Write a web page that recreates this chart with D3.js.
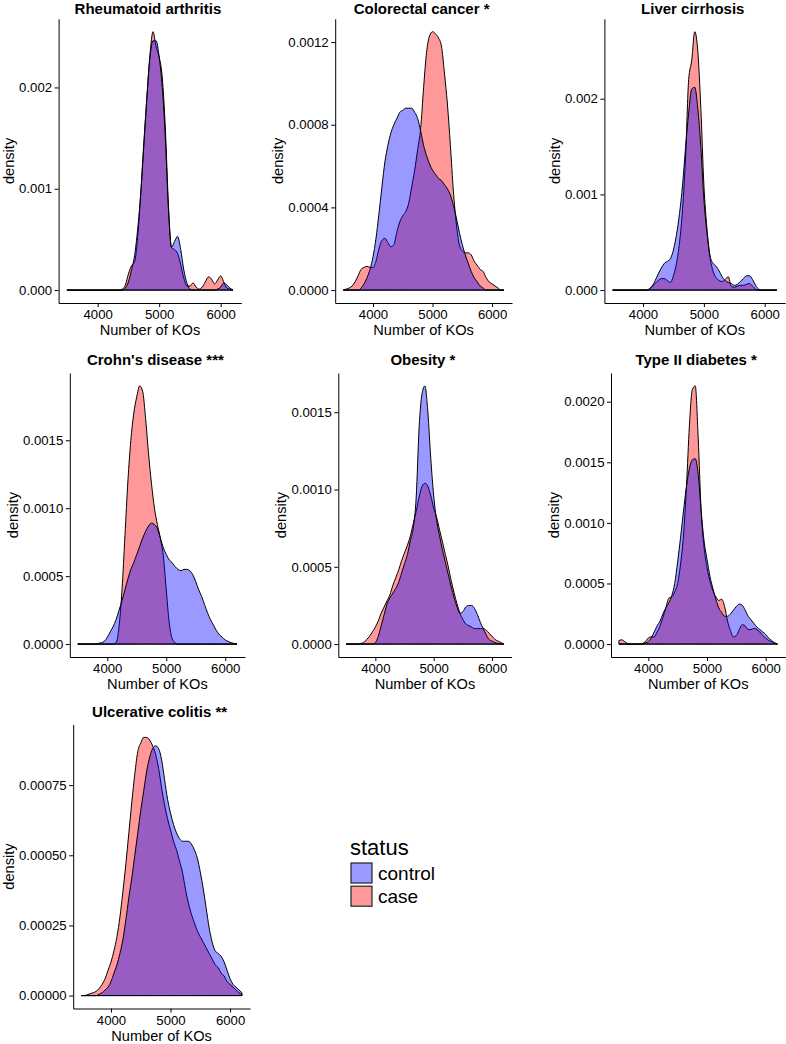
<!DOCTYPE html>
<html><head><meta charset="utf-8">
<script src="https://cdn.jsdelivr.net/npm/d3@7"></script>
<style>
body{margin:0;background:#fff;}
svg{display:block;font-family:"Liberation Sans",Arial,Helvetica,sans-serif;}
</style></head><body>
<svg id="chart" width="786" height="1044"></svg>
<script>
// ---------- DATA ----------
const kos = [3500,3550,3600,3650,3700,3750,3800,3850,3900,3950,
4000,4050,4100,4150,4200,4250,4300,4350,4400,4450,
4500,4550,4600,4650,4700,4750,4800,4850,4900,4950,
5000,5050,5100,5150,5200,5250,5300,5350,5400,5450,
5500,5550,5600,5650,5700,5750,5800,5850,5900,5950,
6000,6050,6100,6150,6200];

const statusLevels = ["control", "case"];
const xTickValues = [4000, 5000, 6000];

const raCase = [0,0,0,0,0,0,0,0,0,0,
0,0,0,0,0,0,0,0,0.00001,0.00005,
0.00016,0.00024,0.00028,0.00052,0.00095,0.00145,0.0019,0.00232,0.00255,0.0024,
0.0023,0.0021,0.0016,0.00085,0.00042,0.0004,0.00036,0.00025,0.00012,0.00004,
0.00004,0.00007,0.00003,0.00001,0.00003,0.00008,0.00013,0.00011,0.00006,0.0001,
0.00014,0.00008,0.00002,0.00001,0];
const raControl = [0,0,0,0,0,0,0,0,0,0,
0,0,0,0,0,0,0,0,0,0.00002,
0.00008,0.0002,0.00034,0.0006,0.00095,0.00142,0.0019,0.0023,0.00246,0.00246,
0.0023,0.002,0.0015,0.0008,0.00042,0.00048,0.00053,0.0004,0.0002,0.00007,
0.00001,0,0,0,0,0,0,0,0,0.00001,
0.00003,0.00007,0.00005,0.00002,0];

const crcCase = [0,0.000005,0.00001,0.00002,0.00004,0.00007,0.0001,0.00011,0.000115,0.00011,
0.00011,0.00014,0.0002,0.00024,0.00025,0.00023,0.00021,0.00022,0.00028,0.00033,
0.00036,0.00038,0.00042,0.0005,0.00058,0.00068,0.00078,0.00098,0.00115,0.00123,
0.00125,0.00124,0.00122,0.00118,0.00105,0.0009,0.0007,0.00048,0.00032,0.00022,
0.00019,0.00018,0.00018,0.00017,0.00014,0.00012,0.0001,0.00009,0.00006,0.00004,
0.00003,0.00002,0.00001,0,0];
const crcControl = [0,0,0,0,0,0,0.00001,0.00003,0.00006,0.0001,
0.00016,0.00025,0.00037,0.0005,0.00062,0.0007,0.00076,0.0008,0.00083,0.00086,
0.00087,0.00088,0.00088,0.00088,0.00086,0.00083,0.00077,0.0007,0.00065,0.00061,
0.00058,0.00056,0.00054,0.00053,0.00051,0.00049,0.00046,0.00041,0.00035,0.00028,
0.00022,0.00017,0.00013,0.00009,0.00006,0.00004,0.00002,0.00001,0,0,
0,0,0,0,0];

const lcCase = [0,0,0,0,0,0,0,0,0,0,
0,0,0.00001,0.00004,0.00007,0.0001,0.00012,0.00012,0.0001,0.00008,
0.00015,0.00028,0.0005,0.00085,0.0014,0.0022,0.0024,0.0027,0.0025,0.0019,
0.0011,0.00065,0.00035,0.0002,0.00013,0.0001,0.00009,0.00011,0.00014,0.00004,
0.00003,0.00004,0.00005,0.00005,0.00006,0.00007,0.00004,0.00001,0,0,
0,0,0,0,0];
const lcControl = [0,0,0,0,0,0,0,0,0,0,
0,0,0.00001,0.00004,0.0001,0.00017,0.00023,0.00028,0.0003,0.00033,
0.00042,0.00058,0.0008,0.0011,0.0015,0.00185,0.0021,0.00212,0.0019,0.0015,
0.00095,0.0006,0.00036,0.00028,0.00025,0.0002,0.00014,0.0001,0.00008,0.00007,
0.00005,0.00006,0.00009,0.00012,0.00015,0.00015,0.00011,0.00005,0.00001,0,
0,0,0,0,0];

const cdCase = [0,0,0,0,0,0,0,0,0,0,
0,0,0,0.00001,0.00013,0.0004,0.0008,0.0012,0.0015,0.0017,
0.00182,0.0019,0.00186,0.00166,0.0014,0.00118,0.001,0.00088,0.00078,0.00065,
0.0004,0.00016,0.00004,0.00001,0,0,0,0,0,0,
0,0,0,0,0,0,0,0,0,0,
0,0,0,0,0];
const cdControl = [0,0,0,0,0,0,0,0.000005,0.00001,0.00002,
0.00005,0.00009,0.00013,0.00018,0.00025,0.00032,0.0004,0.00048,0.00055,0.0006,
0.00066,0.00072,0.00078,0.00083,0.00087,0.00089,0.00088,0.00085,0.00078,0.00071,
0.00066,0.00062,0.0006,0.00057,0.00055,0.00054,0.00055,0.00055,0.00054,0.00051,
0.00046,0.0004,0.00035,0.00029,0.00023,0.00018,0.00014,0.0001,0.00007,0.00005,
0.00003,0.00002,0.00001,0.000005,0];

const obCase = [0,0,0,0,0,0.000005,0.00001,0.00003,0.00005,0.00008,
0.00011,0.00015,0.0002,0.00024,0.00028,0.00032,0.00038,0.00043,0.00048,0.00054,
0.00059,0.00064,0.0007,0.00078,0.00086,0.00095,0.00102,0.00104,0.00102,0.00096,
0.00088,0.00082,0.00074,0.00066,0.00058,0.0005,0.00041,0.00033,0.00026,0.0002,
0.00016,0.00013,0.00012,0.00011,0.0001,0.0001,0.0001,0.0001,0.00009,0.00007,
0.00005,0.00003,0.00002,0.00001,0];
const obControl = [0,0,0,0,0,0,0,0,0,0,
0.00001,0.00005,0.00012,0.00019,0.00026,0.0003,0.00033,0.00036,0.0004,0.00046,
0.00052,0.00058,0.00067,0.00075,0.00095,0.0014,0.00162,0.00167,0.0015,0.0012,
0.00096,0.0008,0.0007,0.00061,0.00053,0.00045,0.00037,0.0003,0.00024,0.0002,
0.00021,0.00024,0.00025,0.00025,0.00023,0.00019,0.00014,0.0001,0.00006,0.00003,
0.00002,0.00001,0.000005,0,0];

const t2dCase = [0.00003,0.000035,0.00002,0.000005,0,0,0,0,0.000005,0.00002,
0.00005,0.00006,0.00006,0.0001,0.00015,0.00022,0.0003,0.00038,0.00039,0.00043,
0.0005,0.00066,0.0009,0.0013,0.0018,0.0021,0.00213,0.0017,0.0011,0.0008,
0.00063,0.00052,0.00044,0.00039,0.00036,0.00037,0.00031,0.00019,0.00011,0.00006,
0.00007,0.00012,0.00016,0.00015,0.00012,0.00012,0.00013,0.00012,0.0001,0.00007,
0.00005,0.00003,0.00002,0.00001,0];
const t2dControl = [0,0,0,0,0,0,0,0,0,0.00001,
0.00002,0.00005,0.0001,0.00015,0.00019,0.00025,0.0003,0.00034,0.0004,0.0005,
0.00068,0.00088,0.0011,0.0013,0.00145,0.00152,0.00153,0.0014,0.0011,0.00085,
0.0007,0.00056,0.00046,0.00037,0.0003,0.00026,0.00023,0.00023,0.00025,0.00028,
0.00031,0.00033,0.00032,0.00028,0.00023,0.0002,0.00017,0.00014,0.00012,0.0001,
0.00008,0.00005,0.00003,0.00001,0];

const ucCase = [0,0,0.000003,0.000007,0.00001,0.000015,0.000025,0.00004,0.00006,0.00009,
0.00012,0.00016,0.00021,0.00028,0.00037,0.00047,0.00058,0.00069,0.00079,0.00087,
0.0009,0.00092,0.00092,0.00091,0.00089,0.00086,0.00081,0.00074,0.00068,0.00063,
0.00059,0.00055,0.00052,0.00048,0.00044,0.00038,0.00033,0.00029,0.00026,0.00023,
0.00021,0.00019,0.00017,0.00015,0.00013,0.00011,0.0001,0.00008,0.00007,0.00005,
0.00004,0.00003,0.00002,0.00001,0.000005];
const ucControl = [0,0,0,0,0,0,0.000005,0.00001,0.00002,0.00003,
0.00005,0.00008,0.00011,0.00015,0.0002,0.00027,0.00035,0.00042,0.0005,0.00058,
0.00066,0.00073,0.0008,0.00085,0.00088,0.00089,0.00088,0.00084,0.00077,0.0007,
0.00065,0.00061,0.00058,0.00056,0.00055,0.00055,0.00055,0.00054,0.00052,0.00049,
0.00044,0.00038,0.00031,0.00024,0.00019,0.00016,0.00015,0.00014,0.00012,0.00009,
0.00006,0.00004,0.00003,0.00002,0.00001];

const panelTitles = ["Rheumatoid arthritis","Colorectal cancer *","Liver cirrhosis",
  "Crohn's disease ***","Obesity *","Type II diabetes *","Ulcerative colitis **"];
const yTicksRA  = [0, 0.001, 0.002];
const yTicksCRC = [0, 0.0004, 0.0008, 0.0012];
const yTicksLC  = [0, 0.001, 0.002];
const yTicksCD  = [0, 0.0005, 0.0010, 0.0015];
const yTicksOB  = [0, 0.0005, 0.0010, 0.0015];
const yTicksT2D = [0, 0.0005, 0.0010, 0.0015, 0.0020];
const yTicksUC  = [0, 0.00025, 0.00050, 0.00075];
const yTickDigits = [3, 4, 3, 4, 4, 4, 5];

// ---------- LAYOUT ----------
const boxes = [
  {L:58.6, R:241.3, T:18.8, B:303, ty:13.5},
  {L:335.2, R:512, T:18.8, B:303, ty:13.5},
  {L:604.4, R:785.1, T:18.8, B:303, ty:13.5},
  {L:69.8, R:245, T:373, B:657, ty:365},
  {L:338.3, R:511.6, T:373, B:657, ty:365},
  {L:611, R:785.4, T:373, B:657, ty:365},
  {L:73.2, R:250, T:724.5, B:1008.5, ty:716.5}
];
const seriesCase = [raCase, crcCase, lcCase, cdCase, obCase, t2dCase, ucCase];
const seriesControl = [raControl, crcControl, lcControl, cdControl, obControl, t2dControl, ucControl];
const yTicksAll = [yTicksRA, yTicksCRC, yTicksLC, yTicksCD, yTicksOB, yTicksT2D, yTicksUC];

const fills = {control: "rgb(0,0,255)", case: "rgb(255,0,0)"};
const fillAlpha = 0.4;
const FONT = '"Liberation Sans", Arial, Helvetica, sans-serif';

const svg = d3.select("#chart");

const xExt = d3.extent(kos);
const xPad = (xExt[1] - xExt[0]) * 0.05;

panelTitles.forEach((title, k) => {
  const b = boxes[k];
  const caseVals = seriesCase[k], ctrlVals = seriesControl[k];
  const g = svg.append("g");
  const x = d3.scaleLinear().domain([xExt[0] - xPad, xExt[1] + xPad]).range([b.L, b.R]);
  const M = d3.max(caseVals.concat(ctrlVals));
  const y = d3.scaleLinear().domain([-0.05 * M, 1.05 * M]).range([b.B, b.T]);

  const area = d3.area()
    .x((d, i) => x(kos[i]))
    .y0(y(0))
    .y1(d => y(d))
    .curve(d3.curveMonotoneX);

  // case drawn first, control on top (as in reference)
  [["case", caseVals], ["control", ctrlVals]].forEach(([lvl, vals]) => {
    g.append("path")
      .datum(vals)
      .attr("d", d => area(d) + "Z")
      .attr("fill", fills[lvl])
      .attr("fill-opacity", fillAlpha)
      .attr("stroke", "#000")
      .attr("stroke-width", 1)
      .attr("stroke-linejoin", "round");
  });

  const xa = g.append("g")
    .attr("transform", `translate(0,${b.B})`)
    .call(d3.axisBottom(x).tickValues(xTickValues).tickSize(4).tickSizeOuter(0).tickPadding(3).tickFormat(d3.format("d")));
  const ya = g.append("g")
    .attr("transform", `translate(${b.L},0)`)
    .call(d3.axisLeft(y).tickValues(yTicksAll[k]).tickSize(4).tickSizeOuter(0).tickPadding(2.5)
      .tickFormat(d3.format("." + yTickDigits[k] + "f")));
  [xa, ya].forEach(a => {
    a.attr("font-family", FONT).attr("font-size", 13.2);
    a.select(".domain").attr("stroke", "#000").attr("stroke-width", 1);
    a.selectAll(".tick line").attr("stroke", "#000").attr("stroke-width", 1);
    a.selectAll(".tick text").attr("fill", "#000");
  });

  let maxW = 0;
  ya.selectAll(".tick text").each(function(){ maxW = Math.max(maxW, this.getComputedTextLength()); });

  g.append("text")
    .attr("x", (b.L + b.R) / 2).attr("y", b.B + 32.4)
    .attr("text-anchor", "middle")
    .attr("font-family", FONT).attr("font-size", 14.6)
    .text("Number of KOs");
  const dx = b.L - 6.5 - maxW - 5;
  g.append("text")
    .attr("transform", `translate(${dx},${(b.T + b.B) / 2}) rotate(-90)`)
    .attr("text-anchor", "middle")
    .attr("font-family", FONT).attr("font-size", 14.6)
    .text("density");

  g.append("text")
    .attr("x", (b.L + b.R) / 2 - 2).attr("y", b.ty)
    .attr("text-anchor", "middle")
    .attr("font-family", FONT).attr("font-size", 15).attr("font-weight", "bold")
    .text(title);
});

// ---------- LEGEND ----------
const lg = svg.append("g");
lg.append("text")
  .attr("x", 350).attr("y", 855)
  .attr("font-family", FONT).attr("font-size", 22)
  .text("status");
statusLevels.forEach((lvl, i) => {
  const yy = 863 + i * 23.2;
  lg.append("rect")
    .attr("x", 351).attr("y", yy).attr("width", 21).attr("height", 20)
    .attr("fill", fills[lvl]).attr("fill-opacity", fillAlpha)
    .attr("stroke", "#222").attr("stroke-width", 1.2);
  lg.append("text")
    .attr("x", 378).attr("y", yy + 16.8)
    .attr("font-family", FONT).attr("font-size", 19)
    .text(lvl);
});
</script>
</body></html>
